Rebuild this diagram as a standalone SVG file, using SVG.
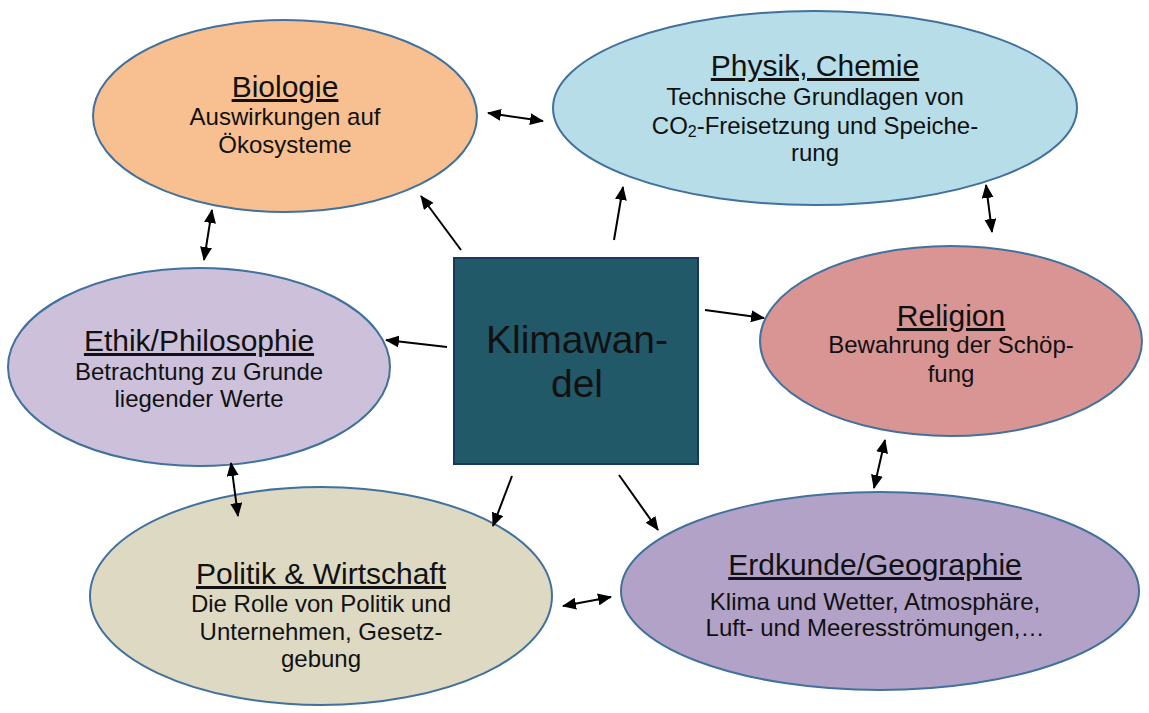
<svg xmlns="http://www.w3.org/2000/svg" width="1149" height="713" viewBox="0 0 1149 713">
<style>
.el{stroke:#41719C;stroke-width:2}
.t{font-family:"Liberation Sans",Arial,sans-serif;fill:#111;text-anchor:middle}
.h{font-size:30px;text-decoration:underline}
.b{font-size:24px}
.c{stroke:#000;stroke-width:2;fill:none}
</style>
<defs>
<marker id="ah" viewBox="0 0 14 12" refX="13" refY="6" markerWidth="14" markerHeight="12" markerUnits="userSpaceOnUse" orient="auto-start-reverse">
<path d="M0,0 L14,6 L0,12 Z" fill="#000"/>
</marker>
</defs>
<rect width="1149" height="713" fill="#fff"/>
<g id="biologie">
<ellipse class="el" cx="285" cy="116" rx="192" ry="96" fill="#F8C090"/>
<text class="t h" x="285" y="97">Biologie</text>
<text class="t b" x="285" y="125">Auswirkungen auf</text>
<text class="t b" x="285" y="153">Ökosysteme</text>
</g>
<g id="physik">
<ellipse class="el" cx="815" cy="108" rx="262" ry="97" fill="#B7DEE8"/>
<text class="t h" x="815" y="76">Physik, Chemie</text>
<text class="t b" x="815" y="105">Technische Grundlagen von</text>
<text class="t b" x="815" y="134">CO<tspan font-size="16" dy="3">2</tspan><tspan dy="-3">-Freisetzung und Speiche-</tspan></text>
<text class="t b" x="815" y="161">rung</text>
</g>
<g id="religion">
<ellipse class="el" cx="951" cy="341" rx="191" ry="95" fill="#D99594"/>
<text class="t h" x="951" y="326">Religion</text>
<text class="t b" x="951" y="353">Bewahrung der Schöp-</text>
<text class="t b" x="951" y="382">fung</text>
</g>
<g id="ethik">
<ellipse class="el" cx="199" cy="367" rx="191" ry="99" fill="#CCC0DA"/>
<text class="t h" x="199" y="351">Ethik/Philosophie</text>
<text class="t b" x="199" y="380">Betrachtung zu Grunde</text>
<text class="t b" x="199" y="407">liegender Werte</text>
</g>
<g id="politik">
<ellipse class="el" cx="321" cy="596" rx="231" ry="109" fill="#DDD9C3"/>
<text class="t h" x="321" y="584">Politik &amp; Wirtschaft</text>
<text class="t b" x="321" y="612">Die Rolle von Politik und</text>
<text class="t b" x="321" y="640">Unternehmen, Gesetz-</text>
<text class="t b" x="321" y="667">gebung</text>
</g>
<g id="erdkunde">
<ellipse class="el" cx="880" cy="591" rx="259" ry="99" fill="#B2A2C7"/>
<text class="t h" x="875" y="575">Erdkunde/Geographie</text>
<text class="t b" x="875" y="610">Klima und Wetter, Atmosphäre,</text>
<text class="t b" x="875" y="636">Luft- und Meeresströmungen,…</text>
</g>
<g id="klimawandel">
<rect x="454" y="258" width="244" height="206" fill="#215968" stroke="#17375E" stroke-width="2"/>
<text class="t" x="577" y="353" font-size="39" fill="#111">Klimawan-</text>
<text class="t" x="577" y="397" font-size="39" fill="#111">del</text>
</g>
<g id="connectors">
<line class="c" x1="488" y1="113" x2="543" y2="121" marker-start="url(#ah)" marker-end="url(#ah)"/>
<line class="c" x1="986" y1="185" x2="992" y2="232" marker-start="url(#ah)" marker-end="url(#ah)"/>
<line class="c" x1="212" y1="210" x2="204" y2="260" marker-start="url(#ah)" marker-end="url(#ah)"/>
<line class="c" x1="231" y1="463" x2="238" y2="516" marker-start="url(#ah)" marker-end="url(#ah)"/>
<line class="c" x1="563" y1="606" x2="611" y2="597" marker-start="url(#ah)" marker-end="url(#ah)"/>
<line class="c" x1="885" y1="440" x2="874" y2="488" marker-start="url(#ah)" marker-end="url(#ah)"/>
<line class="c" x1="461" y1="250" x2="421" y2="196" marker-end="url(#ah)"/>
<line class="c" x1="614" y1="240" x2="623" y2="187" marker-end="url(#ah)"/>
<line class="c" x1="447" y1="347" x2="386" y2="340" marker-end="url(#ah)"/>
<line class="c" x1="705" y1="310" x2="764" y2="318" marker-end="url(#ah)"/>
<line class="c" x1="512" y1="476" x2="493" y2="526" marker-end="url(#ah)"/>
<line class="c" x1="619" y1="475" x2="658" y2="530" marker-end="url(#ah)"/>
</g>
</svg>
